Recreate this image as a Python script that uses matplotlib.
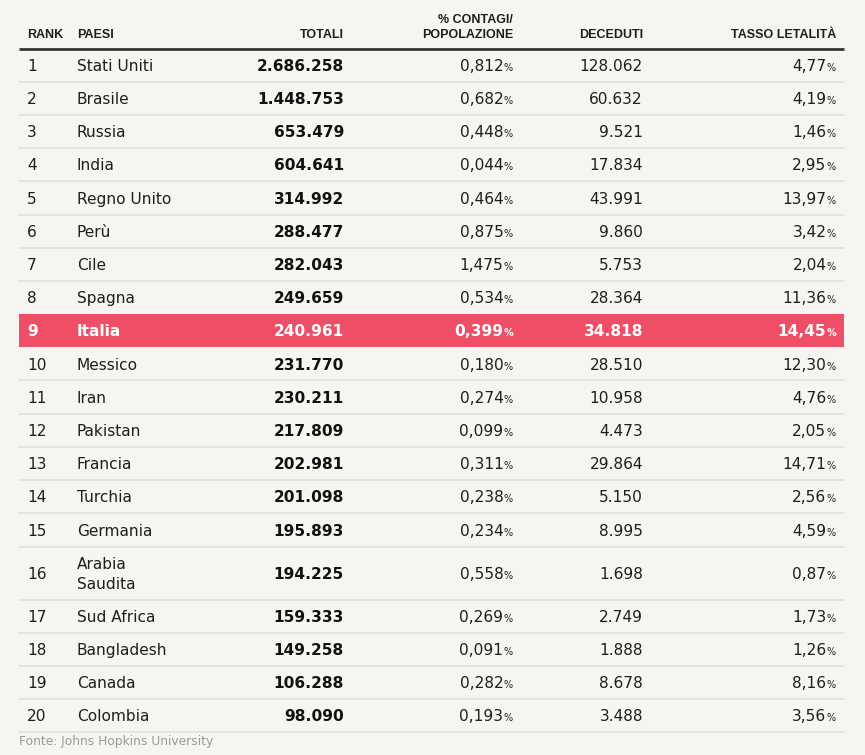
import matplotlib
matplotlib.use("Agg")
import matplotlib.pyplot as plt

ranks = list(range(1, 21))
paesi = ["Stati Uniti", "Brasile", "Russia", "India", "Regno Unito", "Perù", "Cile",
         "Spagna", "Italia", "Messico", "Iran", "Pakistan", "Francia", "Turchia",
         "Germania", "Arabia\nSaudita", "Sud Africa", "Bangladesh", "Canada", "Colombia"]
totali = ["2.686.258", "1.448.753", "653.479", "604.641", "314.992", "288.477", "282.043",
          "249.659", "240.961", "231.770", "230.211", "217.809", "202.981", "201.098",
          "195.893", "194.225", "159.333", "149.258", "106.288", "98.090"]
contagi_pop = ["0,812", "0,682", "0,448", "0,044", "0,464", "0,875", "1,475", "0,534",
               "0,399", "0,180", "0,274", "0,099", "0,311", "0,238", "0,234", "0,558",
               "0,269", "0,091", "0,282", "0,193"]
deceduti = ["128.062", "60.632", "9.521", "17.834", "43.991", "9.860", "5.753", "28.364",
            "34.818", "28.510", "10.958", "4.473", "29.864", "5.150", "8.995", "1.698",
            "2.749", "1.888", "8.678", "3.488"]
letalita = ["4,77", "4,19", "1,46", "2,95", "13,97", "3,42", "2,04", "11,36", "14,45",
            "12,30", "4,76", "2,05", "14,71", "2,56", "4,59", "0,87", "1,73", "1,26",
            "8,16", "3,56"]
headers = ["RANK", "PAESI", "TOTALI", "% CONTAGI/\nPOPOLAZIONE", "DECEDUTI", "TASSO LETALITÀ"]
highlight = "Italia"
source = "Fonte: Johns Hopkins University"

BG = "#f7f5f1"
RED = "#ef4f66"
DARK = "#1e1e1e"
SEP = "#e2dfda"
FONT = "DejaVu Sans"
HFONT = "Liberation Sans"

W, H = 865, 755
fig = plt.figure(figsize=(W / 100, H / 100), dpi=100, facecolor=BG)
ax = fig.add_axes([0, 0, 1, 1])
ax.set_xlim(0, W)
ax.set_ylim(H, 0)
ax.axis("off")
ax.set_facecolor(BG)

left, right = 19, 844
col_x = {"rank": 27, "paese": 77, "tot": 344, "cont": 513, "dec": 643, "let": 836}
top = 48.5
row_h = 33.2
tall_h = 53.0
fs = 11.1
fs_pct = 7.0
cap = 5.7  # half cap height in px for baseline placement

# header
hy = 38
hkw = dict(fontsize=9.0, fontweight="bold", color=DARK, family=HFONT, va="baseline")
aligns = ["left", "left", "right", "right", "right", "right"]
keys = ["rank", "paese", "tot", "cont", "dec", "let"]
for htxt, al, k in zip(headers, aligns, keys):
    lines = htxt.split("\n")
    for j, ln in enumerate(lines):
        ax.text(col_x[k], hy - 15 * (len(lines) - 1 - j), ln, ha=al, **hkw)
ax.plot([left, right], [top, top], color="#333333", lw=2.0, solid_capstyle="butt")

y = top
for i in range(len(ranks)):
    h = tall_h if "\n" in paesi[i] else row_h
    y0, y1 = y, y + h
    yc = (y0 + y1) / 2
    hl = paesi[i] == highlight
    if hl:
        ax.fill_between([left, right], y0, y1, color=RED, lw=0, zorder=0)
    col = "white" if hl else DARK
    w_norm = "bold" if hl else "normal"
    base = yc + cap
    ax.text(col_x["rank"], base, str(ranks[i]), ha="left", va="baseline", fontsize=fs,
            color=col, fontweight=w_norm, family=FONT)
    if "\n" in paesi[i]:
        a, b = paesi[i].split("\n")
        ax.text(col_x["paese"], base - 10, a, ha="left", va="baseline", fontsize=fs,
                color=col, fontweight=w_norm, family=FONT)
        ax.text(col_x["paese"], base + 10, b, ha="left", va="baseline", fontsize=fs,
                color=col, fontweight=w_norm, family=FONT)
    else:
        ax.text(col_x["paese"], base, paesi[i], ha="left", va="baseline", fontsize=fs,
                color=col, fontweight=w_norm, family=FONT)
    ax.text(col_x["tot"], base, totali[i], ha="right", va="baseline", fontsize=fs,
            color="white" if hl else "#111111", fontweight="bold", family=FONT)
    ax.text(col_x["dec"], base, deceduti[i], ha="right", va="baseline", fontsize=fs,
            color=col, fontweight=w_norm, family=FONT)
    for key, val in (("cont", contagi_pop[i]), ("let", letalita[i])):
        p = ax.text(col_x[key], base, "%", ha="right", va="baseline", fontsize=fs_pct,
                    color=col, fontweight=w_norm, family=FONT)
        ax.annotate(val, xy=(0, base), xycoords=(p, "data"), ha="right", va="baseline",
                    fontsize=fs, color=col, fontweight=w_norm, family=FONT,
                    xytext=(-0.3, 0), textcoords="offset points")
    nxt_hl = i + 1 < len(ranks) and paesi[i + 1] == highlight
    if not hl and not nxt_hl:
        ax.plot([left, right], [y1, y1], color=SEP, lw=1.1, zorder=1)
    y = y1

ax.text(left, 745.5, source, ha="left", va="baseline", fontsize=8.8, color="#9a9a9a", family=FONT)

fig.savefig("out.png", dpi=100, facecolor=BG)
